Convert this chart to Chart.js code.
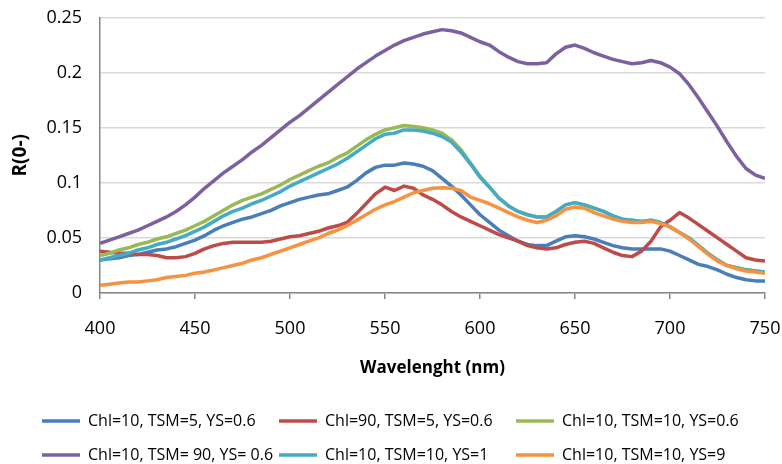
<!DOCTYPE html>
<html>
<head>
<meta charset="utf-8">
<title>R(0-) spectra</title>
<script src="https://cdn.jsdelivr.net/npm/chart.js@4/dist/chart.umd.min.js"></script>
<style>
  html, body { margin: 0; padding: 0; background: #fff; }
  #wrap { width: 782px; height: 464px; }
</style>
</head>
<body>
<div id="wrap"><canvas id="reflectance" width="782" height="464"></canvas></div>
<script>
// wavelength grid (nm), 5 nm steps
const wavelengths = [
  400, 405, 410, 415, 420, 425, 430, 435, 440, 445,
  450, 455, 460, 465, 470, 475, 480, 485, 490, 495,
  500, 505, 510, 515, 520, 525, 530, 535, 540, 545,
  550, 555, 560, 565, 570, 575, 580, 585, 590, 595,
  600, 605, 610, 615, 620, 625, 630, 635, 640, 645,
  650, 655, 660, 665, 670, 675, 680, 685, 690, 695,
  700, 705, 710, 715, 720, 725, 730, 735, 740, 745,
  750
];

const seriesLabels = [
  'Chl=10, TSM=5, YS=0.6',
  'Chl=90, TSM=5, YS=0.6',
  'Chl=10, TSM=10, YS=0.6',
  'Chl=10, TSM= 90, YS= 0.6',
  'Chl=10, TSM=10, YS=1',
  'Chl=10, TSM=10, YS=9'
];

const seriesColors = ['#4A7EBB', '#BE4B48', '#98B954', '#7D60A0', '#46AAC5', '#F69240'];

const chl10Tsm5Ys06 = [
  0.030, 0.031, 0.032, 0.034, 0.035, 0.037, 0.039, 0.040, 0.042, 0.045,
  0.048, 0.052, 0.057, 0.061, 0.064, 0.067, 0.069, 0.072, 0.075, 0.079,
  0.082, 0.085, 0.087, 0.089, 0.090, 0.093, 0.096, 0.102, 0.109, 0.114,
  0.116, 0.116, 0.118, 0.117, 0.115, 0.111, 0.104, 0.097, 0.089, 0.080,
  0.071, 0.064, 0.057, 0.052, 0.047, 0.044, 0.043, 0.043, 0.047, 0.051,
  0.052, 0.051, 0.049, 0.046, 0.043, 0.041, 0.040, 0.040, 0.040, 0.040,
  0.038, 0.034, 0.030, 0.026, 0.024, 0.021, 0.017, 0.014, 0.012, 0.011,
  0.011
];

const chl90Tsm5Ys06 = [
  0.038, 0.037, 0.036, 0.036, 0.035, 0.035, 0.034, 0.032, 0.032, 0.033,
  0.036, 0.040, 0.043, 0.045, 0.046, 0.046, 0.046, 0.046, 0.047, 0.049,
  0.051, 0.052, 0.054, 0.056, 0.059, 0.061, 0.064, 0.072, 0.081, 0.090,
  0.096, 0.093, 0.097, 0.095, 0.089, 0.085, 0.080, 0.074, 0.069, 0.065,
  0.061, 0.057, 0.053, 0.050, 0.047, 0.043, 0.041, 0.040, 0.041, 0.044,
  0.046, 0.047, 0.045, 0.041, 0.037, 0.034, 0.033, 0.038, 0.047, 0.060,
  0.066, 0.073, 0.068, 0.062, 0.056, 0.050, 0.044, 0.038, 0.032, 0.030,
  0.029
];

const chl10Tsm10Ys06 = [
  0.034, 0.036, 0.039, 0.041, 0.044, 0.046, 0.049, 0.051, 0.054, 0.057,
  0.061, 0.065, 0.070, 0.075, 0.080, 0.084, 0.087, 0.090, 0.094, 0.098,
  0.103, 0.107, 0.111, 0.115, 0.118, 0.123, 0.127, 0.133, 0.139, 0.144,
  0.148, 0.150, 0.152, 0.151, 0.150, 0.148, 0.145, 0.139, 0.130, 0.118,
  0.106, 0.096, 0.086, 0.079, 0.074, 0.071, 0.069, 0.069, 0.074, 0.080,
  0.082, 0.080, 0.077, 0.074, 0.070, 0.067, 0.066, 0.065, 0.066, 0.064,
  0.060, 0.055, 0.050, 0.043, 0.036, 0.030, 0.025, 0.023, 0.021, 0.020,
  0.019
];

const chl10Tsm90Ys06 = [
  0.045, 0.048, 0.051, 0.054, 0.057, 0.061, 0.065, 0.069, 0.074, 0.080,
  0.087, 0.095, 0.102, 0.109, 0.115, 0.121, 0.128, 0.134, 0.141, 0.148,
  0.155, 0.161, 0.168, 0.175, 0.182, 0.189, 0.196, 0.203, 0.209, 0.215,
  0.220, 0.225, 0.229, 0.232, 0.235, 0.237, 0.239, 0.238, 0.236, 0.232,
  0.228, 0.225, 0.219, 0.214, 0.210, 0.208, 0.208, 0.209, 0.217, 0.223,
  0.225, 0.222, 0.218, 0.215, 0.212, 0.210, 0.208, 0.209, 0.211, 0.209,
  0.205, 0.199, 0.189, 0.177, 0.164, 0.151, 0.137, 0.124, 0.113, 0.107,
  0.104
];

const chl10Tsm10Ys1 = [
  0.030, 0.032, 0.034, 0.036, 0.039, 0.041, 0.044, 0.046, 0.049, 0.052,
  0.056, 0.060, 0.065, 0.070, 0.074, 0.077, 0.081, 0.084, 0.088, 0.092,
  0.097, 0.101, 0.105, 0.109, 0.113, 0.117, 0.122, 0.128, 0.134, 0.140,
  0.144, 0.145, 0.148, 0.148, 0.147, 0.145, 0.142, 0.137, 0.128, 0.117,
  0.105, 0.096, 0.086, 0.079, 0.074, 0.071, 0.069, 0.069, 0.074, 0.080,
  0.082, 0.080, 0.077, 0.074, 0.070, 0.067, 0.066, 0.065, 0.066, 0.064,
  0.060, 0.055, 0.050, 0.043, 0.036, 0.030, 0.025, 0.023, 0.021, 0.020,
  0.019
];

const chl10Tsm10Ys9 = [
  0.007, 0.008, 0.009, 0.010, 0.010, 0.011, 0.012, 0.014, 0.015, 0.016,
  0.018, 0.019, 0.021, 0.023, 0.025, 0.027, 0.030, 0.032, 0.035, 0.038,
  0.041, 0.044, 0.047, 0.050, 0.054, 0.057, 0.061, 0.066, 0.071, 0.076,
  0.080, 0.083, 0.087, 0.091, 0.093, 0.095, 0.0955, 0.095, 0.093, 0.087,
  0.084, 0.081, 0.077, 0.073, 0.069, 0.066, 0.064, 0.066, 0.070, 0.076,
  0.078, 0.077, 0.073, 0.070, 0.067, 0.065, 0.064, 0.064, 0.065, 0.063,
  0.060, 0.055, 0.049, 0.042, 0.035, 0.029, 0.025, 0.022, 0.020, 0.019,
  0.018
];

const seriesValues = [
  chl10Tsm5Ys06, chl90Tsm5Ys06, chl10Tsm10Ys06,
  chl10Tsm90Ys06, chl10Tsm10Ys1, chl10Tsm10Ys9
];

const xTicks = [400, 450, 500, 550, 600, 650, 700, 750];
const yTicks = [0, 0.05, 0.1, 0.15, 0.2, 0.25];
const yTickLabels = ['0', '0.05', '0.1', '0.15', '0.2', '0.25'];

const xTitle = 'Wavelenght (nm)';
const yTitle = 'R(0-)';

const FONT = "'Open Sans', sans-serif";
Chart.defaults.font.family = FONT;
Chart.defaults.color = '#000';

// axis titles plus a three-column legend under the plot
const decorations = {
  id: 'decorations',
  afterDraw(chart) {
    const { ctx, chartArea } = chart;
    ctx.save();
    ctx.fillStyle = '#000';
    ctx.textBaseline = 'middle';

    ctx.font = `bold 17px ${FONT}`;
    ctx.textAlign = 'center';
    ctx.fillText(xTitle, (chartArea.left + chartArea.right) / 2, 368);

    ctx.save();
    ctx.translate(21, (chartArea.top + chartArea.bottom) / 2);
    ctx.rotate(-Math.PI / 2);
    ctx.font = `bold 19px ${FONT}`;
    ctx.fillText(yTitle, 0, 0);
    ctx.restore();

    const cols = [42, 279, 516];
    const rows = [421, 455];
    ctx.font = `16px ${FONT}`;
    ctx.textAlign = 'left';
    ctx.lineWidth = 3.5;
    ctx.lineCap = 'butt';
    chart.data.datasets.forEach((ds, i) => {
      const x = cols[i % 3];
      const y = rows[Math.floor(i / 3)];
      ctx.strokeStyle = ds.borderColor;
      ctx.beginPath();
      ctx.moveTo(x, y);
      ctx.lineTo(x + 38, y);
      ctx.stroke();
      ctx.fillText(ds.label, x + 46, y);
    });
    ctx.restore();
  }
};

new Chart(document.getElementById('reflectance'), {
  type: 'line',
  data: {
    datasets: seriesValues.map((vals, i) => ({
      label: seriesLabels[i],
      data: wavelengths.map((w, j) => ({ x: w, y: vals[j] })),
      borderColor: seriesColors[i],
      backgroundColor: seriesColors[i],
      borderWidth: 3.5,
      pointRadius: 0,
      tension: 0,
      fill: false,
      borderJoinStyle: 'round',
      order: seriesValues.length - i
    }))
  },
  options: {
    responsive: false,
    animation: false,
    layout: { padding: { top: 17.5, right: 17, left: 0, bottom: 0 } },
    plugins: {
      legend: { display: false },
      tooltip: { enabled: false }
    },
    scales: {
      x: {
        type: 'linear',
        min: 400,
        max: 750,
        afterBuildTicks(scale) {
          scale.ticks = xTicks.map((v) => ({ value: v }));
        },
        afterFit(scale) {
          scale.height = 171;
          scale.paddingLeft = 0;
          scale.paddingRight = 0;
        },
        ticks: {
          font: { size: 18 },
          padding: 19,
          maxRotation: 0
        },
        grid: {
          drawOnChartArea: false,
          tickLength: 6,
          color: '#868686',
          lineWidth: 1.5
        },
        border: { color: '#868686', width: 1.5 }
      },
      y: {
        min: 0,
        max: 0.25,
        afterBuildTicks(scale) {
          scale.ticks = yTicks.map((v) => ({ value: v }));
        },
        afterFit(scale) {
          scale.width = 100;
          scale.paddingTop = 0;
          scale.paddingBottom = 0;
        },
        ticks: {
          font: { size: 18 },
          padding: 18,
          callback(value, index) {
            return yTickLabels[index];
          }
        },
        grid: {
          drawTicks: false,
          color: '#d9d9d9',
          lineWidth: 1.5
        },
        border: { color: '#868686', width: 1.5 }
      }
    }
  },
  plugins: [decorations]
});
</script>
</body>
</html>
